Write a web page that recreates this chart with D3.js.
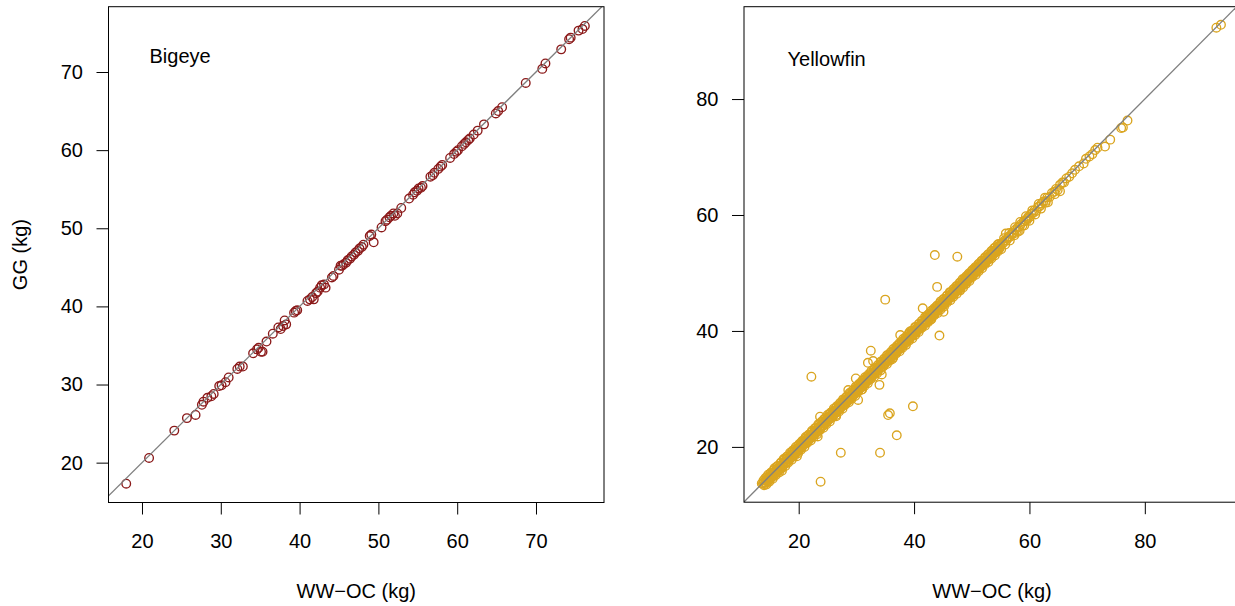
<!DOCTYPE html>
<html>
<head>
<meta charset="utf-8">
<script src="https://cdn.jsdelivr.net/npm/d3@7/dist/d3.min.js"></script>
<style>
  body { margin: 0; background: #fff; }
  svg { font-family: "Liberation Sans", Arial, Helvetica, sans-serif; }
</style>
</head>
<body>
<div id="chart"></div>
<script>
// ---- data: [WW-OC, GG] in kg ----
const bigeyePts = [
  [18.0,17.3],[20.9,20.6],[24.1,24.1],[25.7,25.7],[26.8,26.1],[27.6,27.4],[27.8,27.8],[28.3,28.3],
  [28.8,28.5],[29.1,28.8],[29.8,29.8],[30.1,29.9],[30.6,30.3],[31.0,30.9],[32.1,32.0],[32.4,32.3],
  [32.8,32.3],[34.1,34.0],[34.6,34.5],[34.8,34.7],[35.1,34.2],[35.3,34.2],[35.8,35.5],[36.6,36.5],
  [37.3,37.3],[37.6,37.1],[37.9,37.5],[38.1,38.2],[38.3,37.7],[39.3,39.2],[39.5,39.4],[39.7,39.5],
  [41.0,40.7],[41.3,40.9],[41.6,41.2],[41.8,40.9],[42.1,41.7],[42.3,41.9],[42.6,42.4],[42.8,42.7],
  [43.1,42.8],[43.3,42.4],[44.1,43.7],[44.3,43.9],[45.0,44.7],[45.2,45.2],[45.4,45.2],[45.6,45.4],
  [45.9,45.6],[46.1,45.9],[46.4,46.1],[46.6,46.4],[46.9,46.6],[47.1,46.9],[47.4,47.1],[47.6,47.4],
  [47.9,47.6],[48.1,47.9],[48.9,49.0],[49.1,49.2],[49.4,48.2],[50.4,50.1],[50.9,50.9],[51.1,51.1],
  [51.4,51.4],[51.6,51.6],[51.9,51.9],[52.1,51.6],[52.4,51.9],[52.9,52.6],[53.9,53.8],[54.4,54.3],
  [54.6,54.6],[54.9,54.8],[55.1,55.1],[55.4,55.2],[55.6,55.4],[56.6,56.6],[56.9,56.8],[57.1,57.1],
  [57.6,57.6],[57.9,57.9],[58.1,58.1],[59.1,59.0],[59.6,59.5],[59.9,59.8],[60.1,60.0],[60.6,60.5],
  [60.9,60.8],[61.1,61.0],[61.4,61.3],[61.6,61.5],[62.1,62.0],[62.6,62.5],[63.4,63.3],[64.9,64.7],
  [65.2,65.0],[65.7,65.5],[68.7,68.6],[70.8,70.4],[71.2,71.1],[73.2,72.9],[74.2,74.2],[74.4,74.4],
  [75.4,75.3],[75.9,75.5],[76.2,75.9]
];

// dense band of yellowfin fish close to the 1:1 line
const yellowfinBand = [
  [13.6,13.7],[13.8,13.7],[14.0,13.9],[14.1,13.6],[14.3,14.2],[14.5,14.3],[14.6,14.0],[14.8,14.7],
  [15.0,14.6],[15.1,15.1],[15.3,14.9],[15.5,15.3],[15.6,15.0],[15.8,15.7],[16.0,15.5],[16.1,16.0],
  [16.3,16.2],[16.5,15.9],[16.7,16.6],[16.8,16.5],[17.0,16.3],[17.2,17.1],[17.3,16.9],[17.5,17.4],
  [17.7,17.2],[17.9,17.9],[18.0,17.4],[18.2,18.1],[18.4,18.2],[18.5,17.9],[18.7,18.6],[18.9,18.7],
  [19.0,18.5],[19.2,19.2],[19.4,19.0],[19.6,19.5],[19.7,19.1],[19.9,19.8],[20.1,19.9],[20.2,19.6],
  [20.4,20.4],[20.6,20.3],[20.8,20.5],[20.9,20.9],[21.1,20.7],[21.3,21.2],[21.4,20.9],[21.6,21.5],
  [21.8,21.7],[22.0,21.5],[22.1,22.1],[22.3,22.0],[22.5,22.4],[22.7,22.1],[22.8,22.8],[23.0,22.7],
  [23.2,23.1],[23.3,22.6],[23.5,23.4],[23.7,23.5],[23.9,23.7],[24.0,23.6],[24.2,24.2],[24.4,24.1],
  [24.5,24.0],[24.7,24.6],[24.9,24.8],[25.1,24.7],[25.2,25.2],[25.4,25.2],[25.6,25.1],[25.8,25.7],
  [25.9,25.8],[26.1,25.7],[26.3,26.3],[26.5,26.2],[26.6,26.0],[26.8,26.7],[27.0,26.9],[27.2,26.8],
  [27.3,27.3],[27.5,27.1],[27.7,27.6],[27.9,27.4],[28.0,28.0],[28.2,27.9],[28.4,28.2],[28.6,28.0],
  [28.7,28.7],[28.9,28.6],[29.1,29.0],[29.3,28.8],[29.4,29.4],[29.6,29.3],[29.8,29.7],[30.0,29.5],
  [30.1,30.1],[30.3,30.0],[30.5,30.3],[30.7,30.2],[30.8,30.8],[31.0,30.7],[31.2,31.1],[31.4,30.9],
  [31.5,31.5],[31.7,31.4],[31.9,31.8],[32.1,31.6],[32.2,32.2],[32.4,32.1],[32.6,32.5],[32.8,32.3],
  [32.9,32.9],[33.1,32.8],[33.3,33.1],[33.5,33.0],[33.6,33.6],[33.8,33.5],[34.0,33.9],[34.2,33.7],
  [34.3,34.3],[34.5,34.2],[34.7,34.6],[34.9,34.4],[35.0,35.0],[35.2,34.9],[35.4,35.2],[35.6,35.1],
  [35.7,35.7],[35.9,35.6],[36.1,36.0],[36.3,35.8],[36.4,36.4],[36.6,36.3],[36.8,36.7],[37.0,36.5],
  [37.1,37.1],[37.3,37.0],[37.5,37.3],[37.7,37.2],[37.8,37.8],[38.0,37.7],[38.2,38.1],[38.4,37.9],
  [38.5,38.5],[38.7,38.4],[38.9,38.8],[39.1,38.6],[39.2,39.2],[39.4,39.1],[39.6,39.4],[39.8,39.3],
  [39.9,39.9],[40.1,39.8],[40.3,40.2],[40.5,40.0],[40.6,40.6],[40.8,40.5],[41.0,40.9],[41.2,40.7],
  [41.3,41.3],[41.5,41.2],[41.7,41.5],[41.9,41.4],[42.0,42.0],[42.2,41.9],[42.4,42.3],[42.6,42.1],
  [42.7,42.7],[42.9,42.6],[43.1,43.0],[43.3,42.8],[43.4,43.4],[43.6,43.3],[43.8,43.6],[44.0,43.5],
  [44.1,44.1],[44.3,44.0],[44.5,44.4],[44.7,44.2],[44.8,44.8],[45.0,44.7],[45.2,45.1],[45.4,44.9],
  [45.5,45.5],[45.7,45.4],[45.9,45.7],[46.1,45.6],[46.2,46.2],[46.4,46.1],[46.6,46.5],[46.8,46.3],
  [46.9,46.9],[47.1,46.8],[47.3,47.2],[47.5,47.0],[47.6,47.6],[47.8,47.5],[48.0,47.8],[48.2,47.7],
  [48.3,48.3],[48.5,48.2],[48.7,48.6],[48.9,48.4],[49.0,49.0],[49.2,48.9],[49.4,49.3],[49.6,49.1],
  [49.7,49.7],[49.9,49.6],[50.1,49.9],[50.3,49.8],[50.4,50.4],[50.6,50.3],[50.8,50.7],[51.0,50.5],
  [51.1,51.1],[51.3,51.0],[51.5,51.4],[51.7,51.2],[51.8,51.8],[52.0,51.7],[52.2,52.0],[52.4,51.9],
  [52.5,52.5],[52.7,52.4],[52.9,52.8],[53.1,52.6],[53.2,53.2],[53.4,53.1],[53.6,53.5],[53.8,53.3],
  [53.9,53.9],[54.1,53.8],[54.3,54.1],[54.5,54.0],[54.6,54.6],[54.8,54.5],[55.0,54.9],
  [17.1,15.9],[19.7,18.4],[23.3,21.8],[26.5,25.3],[31.0,29.9],[36.2,35.1],[42.8,41.9],[48.0,47.0]
];

// fish a little above the line
const yellowfinBandHigh = [
  [14.2,14.6],[14.7,15.2],[15.2,15.6],[15.8,16.3],[16.3,16.7],[16.9,17.3],[17.4,17.9],[17.9,18.3],
  [18.5,19.0],[19.0,19.4],[19.5,20.0],[20.1,20.5],[20.6,21.0],[21.2,21.7],[21.7,22.1],[22.3,22.8],
  [22.8,23.2],[23.4,23.9],[23.9,24.3],[24.4,24.8],[25.0,25.5],[25.5,25.9],[26.1,26.6],[26.6,27.0],
  [27.2,27.6],[27.7,28.2],[28.3,28.7],[28.8,29.3],[29.3,29.7],[29.9,30.4],[30.4,30.8],[31.0,31.4],
  [31.5,32.0],[32.1,32.5],[32.6,33.1],[33.2,33.6],[33.7,34.1],[34.2,34.7],[34.8,35.2],[35.3,35.8],
  [35.9,36.3],[36.4,36.9],[37.0,37.4],[37.5,37.9],[38.1,38.6],[38.6,39.0],[39.1,39.6],[39.7,40.1],
  [40.2,40.7],[40.8,41.2],[41.3,41.7],[41.9,42.4],[42.4,42.8],[43.0,43.5],[43.5,43.9],[44.0,44.4],
  [44.6,45.1],[45.1,45.5],[45.7,46.1],[46.2,46.7],[46.8,47.2],[47.3,47.7],[47.9,48.3],[48.4,48.9],
  [49.0,49.4],[49.5,49.9],[50.1,50.5],[50.6,51.0],[51.2,51.6],[51.7,52.1],[52.3,52.7],[52.8,53.2],
  [53.4,53.8],[53.9,54.3],[54.5,54.9],[55.6,56.0],[56.5,56.9],[57.5,57.9],[58.4,58.8],[59.4,59.8],
  [60.5,60.8],[61.6,61.9],[62.7,63.0]
];

// fish just above the line, between the band centre and its upper edge
const yellowfinBandMidHigh = [
  [13.9,14.2],[14.5,14.8],[15.1,15.4],[15.7,16.0],[16.3,16.6],[16.9,17.2],[17.5,17.8],[18.1,18.4],
  [18.7,19.0],[19.3,19.6],[19.9,20.2],[20.5,20.8],[21.1,21.4],[21.7,22.0],[22.3,22.6],[22.9,23.2],
  [23.5,23.8],[24.1,24.4],[24.7,25.0],[25.3,25.6],[25.9,26.2],[26.5,26.8],[27.1,27.4],[27.7,28.0],
  [28.3,28.6],[28.9,29.2],[29.5,29.8],[30.1,30.4],[30.7,31.0],[31.3,31.6],[31.9,32.2],[32.5,32.8],
  [33.1,33.4],[33.7,34.0],[34.3,34.6],[34.9,35.2],[35.5,35.8],[36.1,36.4],[36.7,37.0],[37.3,37.6],
  [37.9,38.2],[38.5,38.8],[39.1,39.4],[39.7,40.0],[40.3,40.6],[40.9,41.2],[41.5,41.8],[42.1,42.4],
  [42.7,43.0],[43.3,43.6],[43.9,44.2],[44.5,44.8],[45.1,45.4],[45.7,46.0],[46.3,46.6],[46.9,47.2],
  [47.5,47.8],[48.1,48.4],[48.7,49.0],[49.3,49.6],[49.9,50.2],[50.5,50.8],[51.1,51.4],[51.7,52.0],
  [52.3,52.6],[52.9,53.2],[53.5,53.8],[54.1,54.4],[54.7,55.0]
];

// fish just below the line, between the band centre and its lower edge
const yellowfinBandMidLow = [
  [14.0,13.4],[14.3,13.8],[14.6,14.0],[14.9,14.4],[15.2,14.6],[15.5,15.0],[15.8,15.2],[16.1,15.6],
  [16.4,15.8],[16.7,16.2],[17.0,16.4],[17.3,16.8],[17.6,17.0],[17.9,17.4],[18.2,17.6],[18.5,18.0],
  [18.8,18.2],[19.1,18.6],[19.4,18.8],[19.7,19.2],[20.0,19.4],[20.3,19.8],[20.6,20.0],[20.9,20.4],
  [21.2,20.6],[21.5,21.0],[21.8,21.2],[22.1,21.6],[22.4,21.8],[22.7,22.2],[23.0,22.4],[23.3,22.8],
  [23.6,23.0],[23.9,23.4],[24.2,23.6],[24.5,24.0],[24.8,24.2],[25.1,24.6],[25.4,24.8],[25.7,25.2],
  [26.0,25.4],[26.3,25.8],[26.6,26.0],[26.9,26.4],[27.2,26.6],[27.5,27.0],[27.8,27.2],[28.1,27.6],
  [28.4,27.8],[28.7,28.2],[29.0,28.4],[29.3,28.8],[29.6,29.0],[29.9,29.4],[30.2,29.6],[30.5,30.0],
  [30.8,30.2],[31.1,30.6],[31.4,30.8],[31.7,31.2],[32.0,31.4],[32.3,31.8],[32.6,32.0],[32.9,32.4],
  [33.2,32.6],[33.5,33.0],[33.8,33.2],[34.1,33.6],[34.4,33.8],[34.7,34.2],[35.0,34.4],[35.3,34.8],
  [35.6,35.0],[35.9,35.4],[36.2,35.6],[36.5,36.0],[36.8,36.2],[37.1,36.6],[37.4,36.8],[37.7,37.2],
  [38.0,37.4],[38.3,37.8],[38.6,38.0],[38.9,38.4],[39.2,38.6],[39.5,39.0],[39.8,39.2],[40.1,39.6],
  [40.4,39.8],[40.7,40.2],[41.0,40.4],[41.3,40.8],[41.6,41.0],[41.9,41.4],[42.2,41.6],[42.5,42.0],
  [42.8,42.2],[43.1,42.6],[43.4,42.8],[43.7,43.2],[44.0,43.4],[44.3,43.8],[44.6,44.0],[44.9,44.4],
  [45.2,44.6],[45.5,45.0],[45.8,45.2],[46.1,45.6],[46.4,45.8],[46.7,46.2],[47.0,46.4],[47.3,46.8],
  [47.6,47.0],[47.9,47.4],[48.2,47.6],[48.5,48.0],[48.8,48.2],[49.1,48.6],[49.4,48.8],[49.7,49.2],
  [50.0,49.4],[50.3,49.8],[50.6,50.0],[50.9,50.4],[51.2,50.6],[51.5,51.0],[51.8,51.2],[52.1,51.6],
  [52.4,51.8],[52.7,52.2],[53.0,52.4],[53.3,52.8],[53.6,53.0],[53.9,53.4],[54.2,53.6],[54.5,54.0],
  [54.8,54.2]
];

// fish a little below the line
const yellowfinBandLow = [
  [14.4,13.5],[14.9,14.0],[15.5,14.5],[16.0,15.1],[16.6,15.6],[17.1,16.3],[17.7,16.7],[18.2,17.3],
  [18.8,17.8],[19.3,18.5],[19.9,18.9],[20.4,19.5],[21.0,20.0],[21.5,20.7],[22.1,21.1],[22.6,21.7],
  [23.2,22.2],[23.7,22.9],[24.3,23.3],[24.8,23.9],[25.4,24.4],[25.9,25.1],[26.5,25.5],[27.0,26.1],
  [27.6,26.6],[28.1,27.3],[28.7,27.7],[29.2,28.3],[29.8,28.8],[30.3,29.5],[30.9,29.9],[31.4,30.5],
  [32.0,31.0],[32.5,31.7],[33.1,32.1],[33.6,32.7],[34.2,33.2],[34.7,33.9],[35.3,34.3],[35.8,34.9],
  [36.4,35.4],[36.9,36.1],[37.5,36.5],[38.0,37.1],[38.6,37.6],[39.1,38.3],[39.7,38.7],[40.2,39.3],
  [40.8,39.8],[41.3,40.5],[41.9,40.9],[42.4,41.5],[43.0,42.0],[43.5,42.7],[44.1,43.1],[44.6,43.7],
  [45.2,44.2],[45.7,44.9],[46.3,45.3],[46.8,45.9],[47.4,46.4],[47.9,47.1],[48.5,47.5],[49.0,48.1],
  [49.6,48.6],[50.1,49.3],[50.7,49.7],[51.2,50.3],[51.8,50.8],[52.3,51.5],[52.9,51.9],[53.4,52.5],
  [54.0,53.0],[54.5,53.7],[55.1,54.1],[55.8,54.9],[56.6,55.6],[57.4,56.5],[58.3,57.3],[59.1,58.2],
  [60.0,59.0],[61.0,60.1],[62.0,61.1],[63.2,62.2],[64.4,63.6]
];

// thinner part of the band above ~55 kg
const yellowfinUpper = [
  [55.3,55.1],[55.5,55.2],[55.7,55.6],[56.0,55.6],[56.2,56.0],[56.4,56.3],[56.6,56.2],[56.9,56.7],
  [57.1,57.0],[57.3,56.8],[57.6,57.5],[57.8,57.3],[58.0,57.9],[58.0,57.1],[58.3,58.0],[58.5,58.4],
  [58.8,58.2],[59.0,58.9],[59.3,59.1],[59.5,59.0],[59.7,59.4],[59.8,59.7],[60.0,59.6],[60.3,60.2],
  [60.6,60.3],[60.9,60.8],[61.2,60.7],[61.5,61.4],[61.8,61.5],[62.1,62.0],[62.4,62.3],[62.8,62.4],
  [62.8,62.1],[63.1,63.0],[63.5,63.1],[63.9,63.8],[64.3,64.0],[64.6,64.5],[64.9,64.3],[65.3,65.2],
  [65.3,64.1],[65.7,65.6],[66.0,65.6],[66.4,66.3],[66.9,66.6],[67.4,67.2],[67.9,67.8],[68.6,68.4],
  [69.4,68.9],[69.8,69.7],[70.4,70.1],[70.9,70.5],[71.4,71.2],[71.8,71.6],[73.1,71.8],[74.0,73.0],
  [75.9,75.0],[76.2,75.1],[77.0,76.3],[92.4,92.3],[93.2,92.8]
];

// fish well off the 1:1 line
const yellowfinOutliers = [
  [22.2,32.1],[23.7,25.2],[23.8,14.0],[27.3,19.0],[28.6,29.8],[29.9,31.8],[30.3,28.1],[32.0,34.5],
  [32.5,36.6],[32.9,34.8],[34.0,30.7],[34.1,19.0],[34.4,32.5],[35.0,45.4],[35.5,25.5],[35.8,25.8],
  [37.0,22.0],[37.6,39.3],[39.3,39.9],[39.8,27.0],[41.5,43.9],[43.6,53.1],[44.0,47.6],[44.4,39.2],
  [45.1,43.3],[47.5,52.8],[55.9,56.8]
];

const bigeyeTicks = [20, 30, 40, 50, 60, 70];
const yellowfinTicks = [20, 40, 60, 80];

// ---- layout ----
const width = 1235, height = 606;
const fontSize = "20px";
const svg = d3.select("#chart")
  .append("svg")
  .attr("width", width)
  .attr("height", height);

function drawPanel(cfg) {
  const { box, xlim, ylim, ticks, series, color, label, labelPos, id } = cfg;

  const x = d3.scaleLinear().domain(xlim).range([box.left, box.right]);
  const y = d3.scaleLinear().domain(ylim).range([box.bottom, box.top]);

  svg.append("clipPath")
    .attr("id", id)
    .append("rect")
    .attr("x", box.left).attr("y", box.top)
    .attr("width", box.right - box.left)
    .attr("height", box.bottom - box.top);

  const plot = svg.append("g").attr("clip-path", `url(#${id})`);

  // points
  series.forEach(pts => {
    plot.append("g")
      .selectAll("circle")
      .data(pts)
      .join("circle")
      .attr("cx", d => x(d[0]))
      .attr("cy", d => y(d[1]))
      .attr("r", 4.3)
      .attr("fill", "none")
      .attr("stroke", color)
      .attr("stroke-width", 1.35);
  });

  // 1:1 line
  const lo = Math.min(xlim[0], ylim[0]), hi = Math.max(xlim[1], ylim[1]);
  plot.append("line")
    .attr("x1", x(lo)).attr("y1", y(lo))
    .attr("x2", x(hi)).attr("y2", y(hi))
    .attr("stroke", "#7f7f7f")
    .attr("stroke-width", 1.3);

  // box
  svg.append("rect")
    .attr("x", box.left).attr("y", box.top)
    .attr("width", box.right - box.left)
    .attr("height", box.bottom - box.top)
    .attr("fill", "none")
    .attr("stroke", "#000")
    .attr("stroke-width", 1);

  // axes
  const xAxis = svg.append("g")
    .attr("transform", `translate(0,${box.bottom})`)
    .call(d3.axisBottom(x).tickValues(ticks).tickSize(12).tickSizeOuter(0).tickPadding(19.5));
  const yAxis = svg.append("g")
    .attr("transform", `translate(${box.left},0)`)
    .call(d3.axisLeft(y).tickValues(ticks).tickSize(12).tickSizeOuter(0).tickPadding(13.5));

  [xAxis, yAxis].forEach(a => {
    a.select(".domain").remove();
    a.selectAll(".tick line").attr("stroke", "#000").attr("stroke-width", 1);
    a.selectAll(".tick text")
      .attr("fill", "#000")
      .style("font-size", fontSize)
      .style("font-family", "\"Liberation Sans\", Arial, sans-serif");
  });

  // x title
  svg.append("text")
    .attr("x", (box.left + box.right) / 2)
    .attr("y", 598)
    .attr("text-anchor", "middle")
    .style("font-size", fontSize)
    .text("WW\u2212OC (kg)");

  // panel label
  svg.append("text")
    .attr("x", labelPos[0])
    .attr("y", labelPos[1])
    .style("font-size", fontSize)
    .text(label);

  return { x, y };
}

drawPanel({
  id: "clipBigeye",
  box: { left: 108.5, right: 604, top: 6.7, bottom: 502.5 },
  xlim: [15.75, 78.63],
  ylim: [14.9, 78.36],
  ticks: bigeyeTicks,
  series: [bigeyePts],
  color: "#8b1a1a",
  label: "Bigeye",
  labelPos: [149.5, 63]
});

drawPanel({
  id: "clipYellowfin",
  box: { left: 744, right: 1240, top: 6.7, bottom: 502.2 },
  xlim: [10.52, 96.5],
  ylim: [10.46, 95.93],
  ticks: yellowfinTicks,
  series: [yellowfinBand, yellowfinBandHigh, yellowfinBandMidHigh, yellowfinBandMidLow,
           yellowfinBandLow, yellowfinUpper, yellowfinOutliers],
  color: "#daa520",
  label: "Yellowfin",
  labelPos: [787.5, 66]
});

// y title (left panel only)
svg.append("text")
  .attr("transform", "translate(27,254.6) rotate(-90)")
  .attr("text-anchor", "middle")
  .style("font-size", fontSize)
  .text("GG (kg)");
</script>
</body>
</html>
